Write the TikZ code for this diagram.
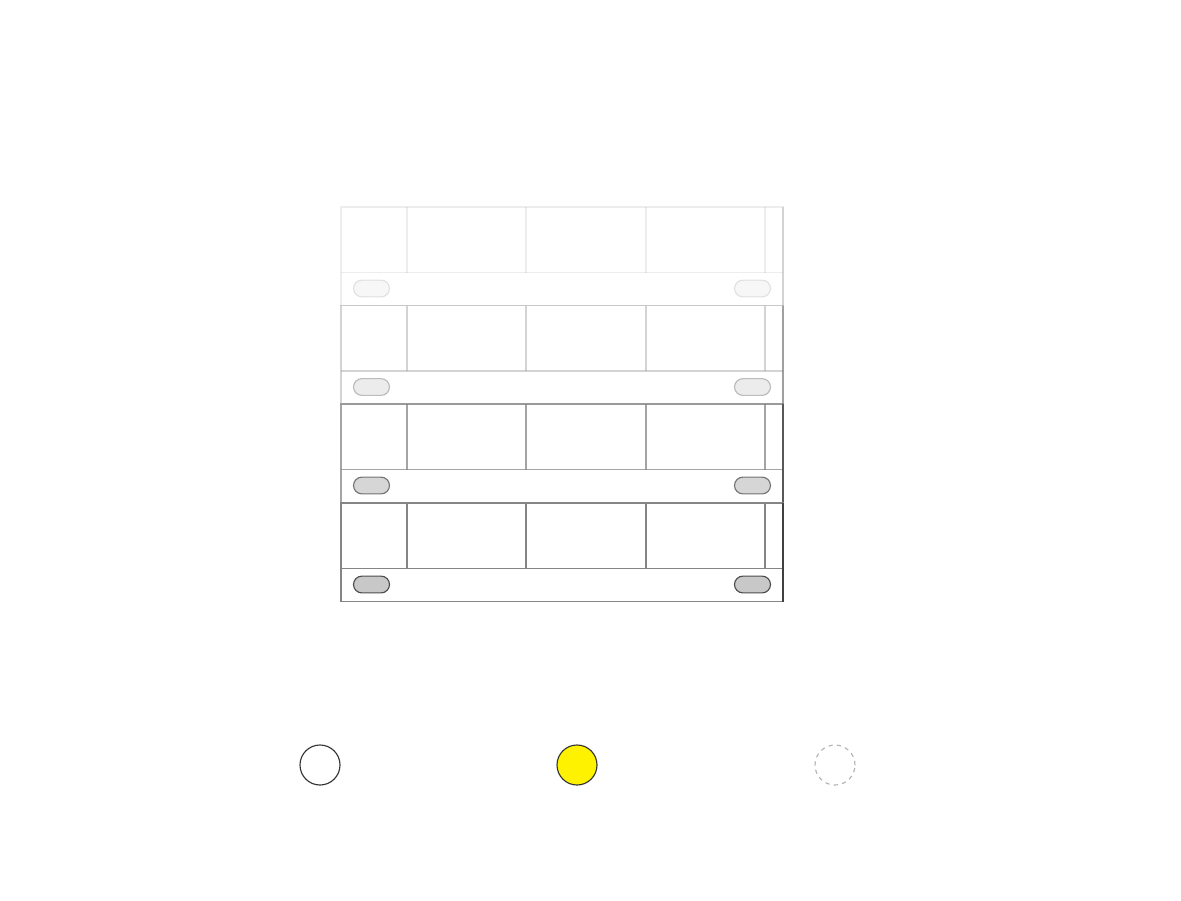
\documentclass[tikz,border=0pt]{standalone}
\usetikzlibrary{shapes.misc}
\definecolor{railgray}{HTML}{858585}
\definecolor{knobfill}{HTML}{C8C8C8}
\definecolor{lampyellow}{HTML}{FFF200}
\begin{document}
\begin{tikzpicture}[x=0.025cm,y=-0.025cm,
	rack_line/.style={draw=railgray,line width=0.9pt},
	knob/.style={rounded rectangle,draw=black!70,fill=knobfill,line width=0.8pt,minimum width=0.9cm,minimum height=0.42cm,inner sep=0pt},
	lamp_node/.style={circle,draw=black!80,line width=0.8pt,minimum size=1cm,inner sep=0pt}]
	
	\useasboundingbox (0,0) rectangle (1181,900);
	
	% four rack units, fading towards the top
	\foreach \y/\op [count=\i] in {207/0.15,305.5/0.35,404/0.75,503/1}{
		\begin{scope}[opacity=\op]
			\draw[rack_line] (341,\y) rectangle (783,\y+98.5);
			\draw[rack_line] (341,\y+65.5) -- (783,\y+65.5);
			\foreach \x in {407,526,646,765}
				\draw[rack_line] (\x,\y) -- (\x,\y+65.5);
			\draw[rack_line,draw=black!75] (783,\y) -- (783,\y+98.5);
			\node[knob] (knobL\i) at (371.5,\y+81.5) {};
			\node[knob] (knobR\i) at (752.5,\y+81.5) {};
		\end{scope}
	}
	
	\node[lamp_node,fill=white] (off) at (320,765) {};
	\node[lamp_node,fill=lampyellow] (on) at (577,765) {};
	\node[lamp_node,draw=black!30,dashed] (none) at (835,765) {};
\end{tikzpicture}
\end{document}
